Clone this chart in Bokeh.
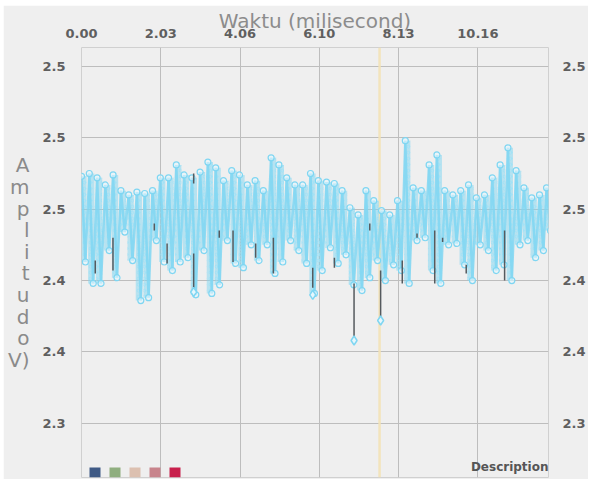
from bokeh.plotting import figure
from bokeh.models import (LinearAxis, FixedTicker, Range1d, Span, Label,
                          BoxAnnotation, ColumnDataSource)
from bokeh.embed import file_html
from bokeh.resources import INLINE

# ---------------- data ----------------
x_title = "Waktu (milisecond)"
y_title_letters = ["A", "m", "p", "l", "i", "t", "u", "d", "o", "V)"]
x_tick_values = [0.0, 2.032, 4.064, 6.096, 8.128, 10.16]
x_tick_labels = ["0.00", "2.03", "4.06", "6.10", "8.13", "10.16"]
y_tick_values = [2.30, 2.35, 2.40, 2.45, 2.50, 2.55]
y_tick_labels = ["2.3", "2.4", "2.4", "2.5", "2.5", "2.5"]

# column start times (ms) of the sampled oscillation
t_ms = [0.0, 0.2, 0.4, 0.61, 0.81, 1.01, 1.21, 1.42, 1.62, 1.82,
        2.02, 2.23, 2.43, 2.63, 2.83, 3.04, 3.24, 3.44, 3.64, 3.85,
        4.05, 4.25, 4.45, 4.66, 4.86, 5.06, 5.26, 5.47, 5.67, 5.87,
        6.07, 6.28, 6.48, 6.68, 6.88, 7.09, 7.29, 7.49, 7.69, 7.9,
        8.1, 8.3, 8.5, 8.71, 8.91, 9.11, 9.31, 9.52, 9.72, 9.92,
        10.12, 10.33, 10.53, 10.73, 10.93, 11.14, 11.34, 11.54, 11.74, 11.92]
peak_v = [2.473, 2.475, 2.472, 2.467, 2.474, 2.463, 2.460, 2.462, 2.461, 2.463,
          2.472, 2.472, 2.481, 2.474, 2.472, 2.476, 2.483, 2.479, 2.470, 2.477,
          2.474, 2.467, 2.470, 2.463, 2.486, 2.481, 2.472, 2.467, 2.467, 2.475,
          2.470, 2.469, 2.468, 2.463, 2.451, 2.446, 2.463, 2.456, 2.449, 2.446,
          2.456, 2.498, 2.465, 2.463, 2.481, 2.488, 2.463, 2.460, 2.463, 2.467,
          2.458, 2.460, 2.472, 2.481, 2.493, 2.477, 2.465, 2.458, 2.460, 2.465]
trough_v = [2.413, 2.398, 2.398, 2.421, 2.402, 2.434, 2.414, 2.386, 2.388, 2.428,
            2.413, 2.407, 2.413, 2.416, 2.390, 2.421, 2.391, 2.397, 2.428, 2.412,
            2.409, 2.425, 2.414, 2.425, 2.405, 2.413, 2.428, 2.421, 2.412, 2.391,
            2.407, 2.423, 2.412, 2.418, 2.397, 2.393, 2.402, 2.414, 2.400, 2.411,
            2.407, 2.398, 2.428, 2.430, 2.407, 2.398, 2.425, 2.426, 2.411, 2.400,
            2.425, 2.421, 2.407, 2.411, 2.400, 2.425, 2.428, 2.416, 2.421, 2.435]

# dark vertical strokes (second series)
seg_t = [0.353, 0.807, 1.866, 2.194, 2.875, 2.875, 3.531, 3.884, 4.464, 4.918,
         5.927, 6.482, 6.986, 7.389, 7.667, 8.222, 8.600, 9.054, 9.256, 9.861, 10.845]
seg_top = [2.414, 2.430, 2.440, 2.426, 2.475, 2.419, 2.435, 2.435, 2.426, 2.430,
           2.409, 2.416, 2.398, 2.440, 2.407, 2.414, 2.433, 2.435, 2.430, 2.411, 2.435]
seg_bottom = [2.405, 2.407, 2.435, 2.412, 2.468, 2.393, 2.430, 2.413, 2.416, 2.405,
              2.395, 2.409, 2.358, 2.435, 2.370, 2.398, 2.430, 2.398, 2.427, 2.405, 2.400]

# lowest isolated samples (diamonds)
dip_t = [2.875, 5.927, 6.986, 7.667]
dip_v = [2.392, 2.390, 2.358, 2.372]

marker_time = 7.64
legend_colors = ["#3f5a85", "#8fae7f", "#dcc0b0", "#c8848c", "#c8204c"]
description = "Description"

# ---------------- figure ----------------
BG = "#efefef"
CYAN = "#7fd6f2"
p = figure(width=585, height=474, output_backend="svg", toolbar_location=None,
           x_range=Range1d(0, 11.97), y_range=Range1d(2.2620, 2.5633),
           x_axis_location="above",
           min_border_left=78, min_border_right=33, min_border_top=41,
           min_border_bottom=2,
           background_fill_color=BG, border_fill_color=BG)
p.margin = (5, 0, 0, 3)
p.outline_line_color = "#d0d0d0"

p.xaxis.ticker = FixedTicker(ticks=x_tick_values)
p.xaxis.major_label_overrides = dict(zip(x_tick_values, x_tick_labels))
p.yaxis.ticker = FixedTicker(ticks=y_tick_values)
p.yaxis.major_label_overrides = dict(zip(y_tick_values, y_tick_labels))

right = LinearAxis(ticker=FixedTicker(ticks=y_tick_values),
                   major_label_overrides=dict(zip(y_tick_values, y_tick_labels)))
p.add_layout(right, "right")

for ax in [p.xaxis[0], p.yaxis[0], right]:
    ax.axis_line_color = None
    ax.major_tick_line_color = None
    ax.minor_tick_line_color = None
    ax.major_label_text_font = "DejaVu Sans"
    ax.major_label_text_font_style = "bold"
    ax.major_label_text_font_size = "13px"
    ax.major_label_text_color = "#5f5f5f"
p.xaxis.major_label_standoff = 4
p.yaxis[0].major_label_standoff = 10
right.major_label_standoff = 8

# top title as the top axis label
xa = p.xaxis[0]
xa.axis_label = x_title
xa.axis_label_text_font = "DejaVu Sans"
xa.axis_label_text_font_style = "normal"
xa.axis_label_text_font_size = "20px"
xa.axis_label_text_color = "#8c8c8c"
xa.axis_label_standoff = -7

# stacked letters as the left axis label
ya = p.yaxis[0]
ya.axis_label = "\n".join(y_title_letters)
ya.axis_label_text_font = "DejaVu Sans"
ya.axis_label_text_font_style = "normal"
ya.axis_label_text_font_size = "20px"
ya.axis_label_text_color = "#8a8a8a"
ya.axis_label_text_line_height = 0.9
ya.axis_label_standoff = 10
try:
    ya.axis_label_orientation = "horizontal"
except Exception:
    pass
try:
    ya.axis_label_text_align = "left"
except Exception:
    pass

p.xgrid.ticker = FixedTicker(ticks=x_tick_values)
p.ygrid.ticker = FixedTicker(ticks=y_tick_values)
p.grid.grid_line_color = "#bdbdbd"
p.grid.grid_line_width = 1

p.add_layout(Span(location=marker_time, dimension="height", line_color="#f3e2b6",
                  line_width=2.5, line_alpha=0.9, level="underlay"))

# oscillation: columns + zigzag
half = 0.1
zx, zy = [], []
for t, pk, tr in zip(t_ms, peak_v, trough_v):
    zx += [t, t + half]
    zy += [pk, tr]
src_cols = ColumnDataSource(dict(x=[t + half / 2 for t in t_ms], top=peak_v, bottom=trough_v))
p.vbar(x="x", top="top", bottom="bottom", width=0.16, source=src_cols,
       fill_color=CYAN, fill_alpha=0.5, line_color=None,
       hatch_pattern="ring", hatch_color="#9fe2f7", hatch_alpha=0.9, hatch_scale=6, hatch_weight=1)
p.line(zx, zy, line_color=CYAN, line_width=2.5, line_alpha=0.85)
p.scatter(zx, zy, marker="circle", size=6, line_color=CYAN, fill_color="#e6f7fd",
          fill_alpha=0.6, line_width=1.2)

p.segment(x0=seg_t, y0=seg_top, x1=seg_t, y1=seg_bottom, line_color="#555a5e", line_width=1.5)
p.scatter(dip_t, dip_v, marker="diamond", size=9, line_color=CYAN, fill_color="#e6f7fd",
          line_width=1.5)

# legend colour squares (screen units, relative to the plot frame)
for i, c in enumerate(legend_colors):
    p.add_layout(BoxAnnotation(left=8 + 20 * i, right=19 + 20 * i, bottom=0, top=10,
                               left_units="screen", right_units="screen",
                               bottom_units="screen", top_units="screen",
                               fill_color=c, fill_alpha=1, line_color=None))

p.add_layout(Label(x=467, y=11, x_units="screen", y_units="screen", text=description,
                   text_align="right", text_baseline="middle", text_font="DejaVu Sans",
                   text_font_style="bold", text_font_size="12px", text_color="#555555"))

open("out.html", "w").write(file_html(p, INLINE))
